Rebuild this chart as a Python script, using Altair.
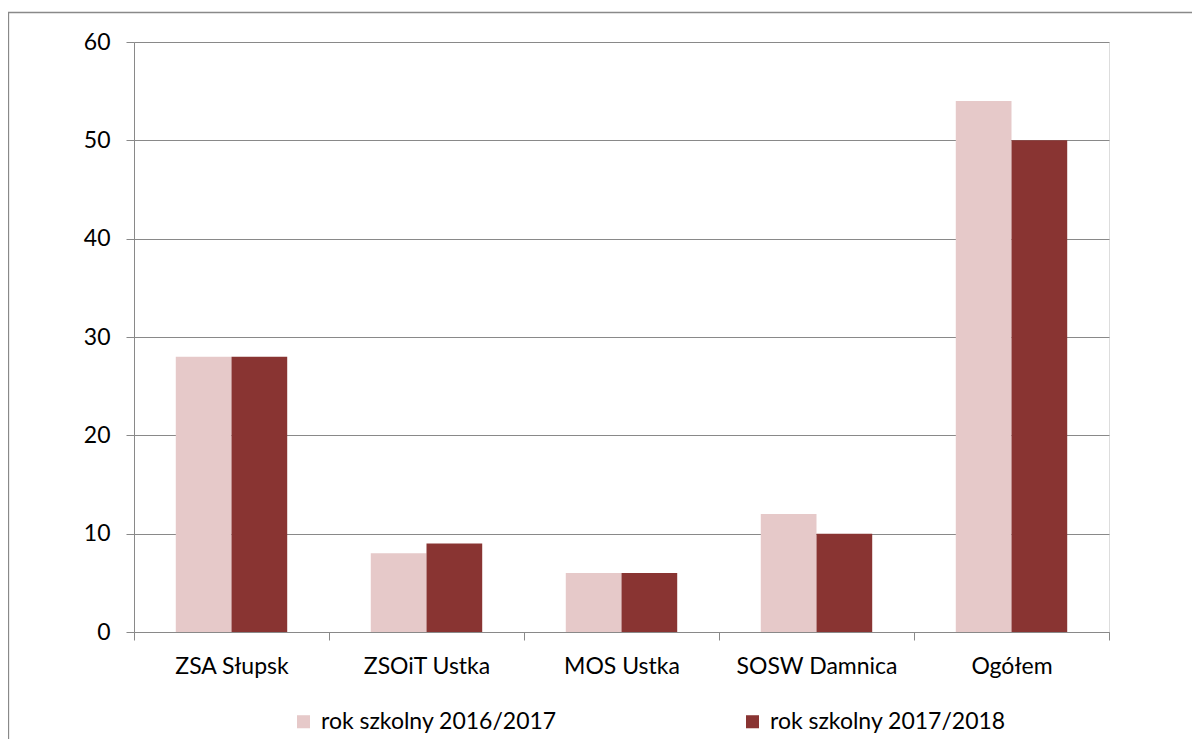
import altair as alt
import pandas as pd

categories = ["ZSA Słupsk", "ZSOiT Ustka", "MOS Ustka", "SOSW Damnica", "Ogółem"]
series = ["rok szkolny 2016/2017", "rok szkolny 2017/2018"]
v2016 = [28, 8, 6, 12, 54]
v2017 = [28, 9, 6, 10, 50]
y_ticks = [0, 10, 20, 30, 40, 50, 60]
colors = ["#E6C9C9", "#893432"]

rows = []
for c, a, b in zip(categories, v2016, v2017):
    rows.append({"kat": c, "seria": series[0], "wartosc": a})
    rows.append({"kat": c, "seria": series[1], "wartosc": b})
df = pd.DataFrame(rows)

FONT = "Lato"
GRAY = "#898989"
FS = 23

bars = alt.Chart(df).mark_bar().encode(
    x=alt.X("kat:N", sort=categories,
            scale=alt.Scale(paddingInner=0, paddingOuter=0),
            axis=alt.Axis(title=None, labelAngle=0, tickBand="extent", ticks=True,
                          tickSize=8, tickColor=GRAY, domainColor=GRAY, grid=False,
                          labelFontSize=FS, labelFont=FONT, labelColor="#000000",
                          labelPadding=15)),
    xOffset=alt.XOffset("seria:N", sort=series,
                        scale=alt.Scale(paddingInner=0, paddingOuter=0.75)),
    y=alt.Y("wartosc:Q", scale=alt.Scale(domain=[0, 60], nice=False),
            axis=alt.Axis(title=None, values=y_ticks, tickSize=8, tickColor=GRAY,
                          domainColor=GRAY, gridColor=GRAY, grid=True,
                          labelFontSize=FS, labelFont=FONT, labelColor="#000000",
                          labelPadding=16)),
    color=alt.Color("seria:N", sort=series,
                    scale=alt.Scale(domain=series, range=colors),
                    legend=alt.Legend(title=None, orient="none", legendX=158, legendY=668,
                                      direction="horizontal", symbolType="square",
                                      symbolSize=170, symbolStrokeWidth=0,
                                      labelFontSize=FS, labelFont=FONT, labelLimit=500,
                                      labelColor="#000000", labelOffset=6,
                                      columnPadding=184, padding=0)),
)

frame = alt.Chart(pd.DataFrame({"f": [0]})).mark_rect(
    fill=None, stroke=GRAY, strokeWidth=1.3
).encode(
    x=alt.value(-125.5), x2=alt.value(1300),
    y=alt.value(-29.5), y2=alt.value(900),
)

chart = alt.layer(frame, bars).properties(
    width=975, height=590,
    padding={"left": 126, "top": 34, "right": 83, "bottom": 107},
    autosize=alt.AutoSizeParams(type="none"),
).configure_view(stroke=None).configure(background="white")

chart.save("out.html", embed_options={"renderer": "svg", "actions": False})
